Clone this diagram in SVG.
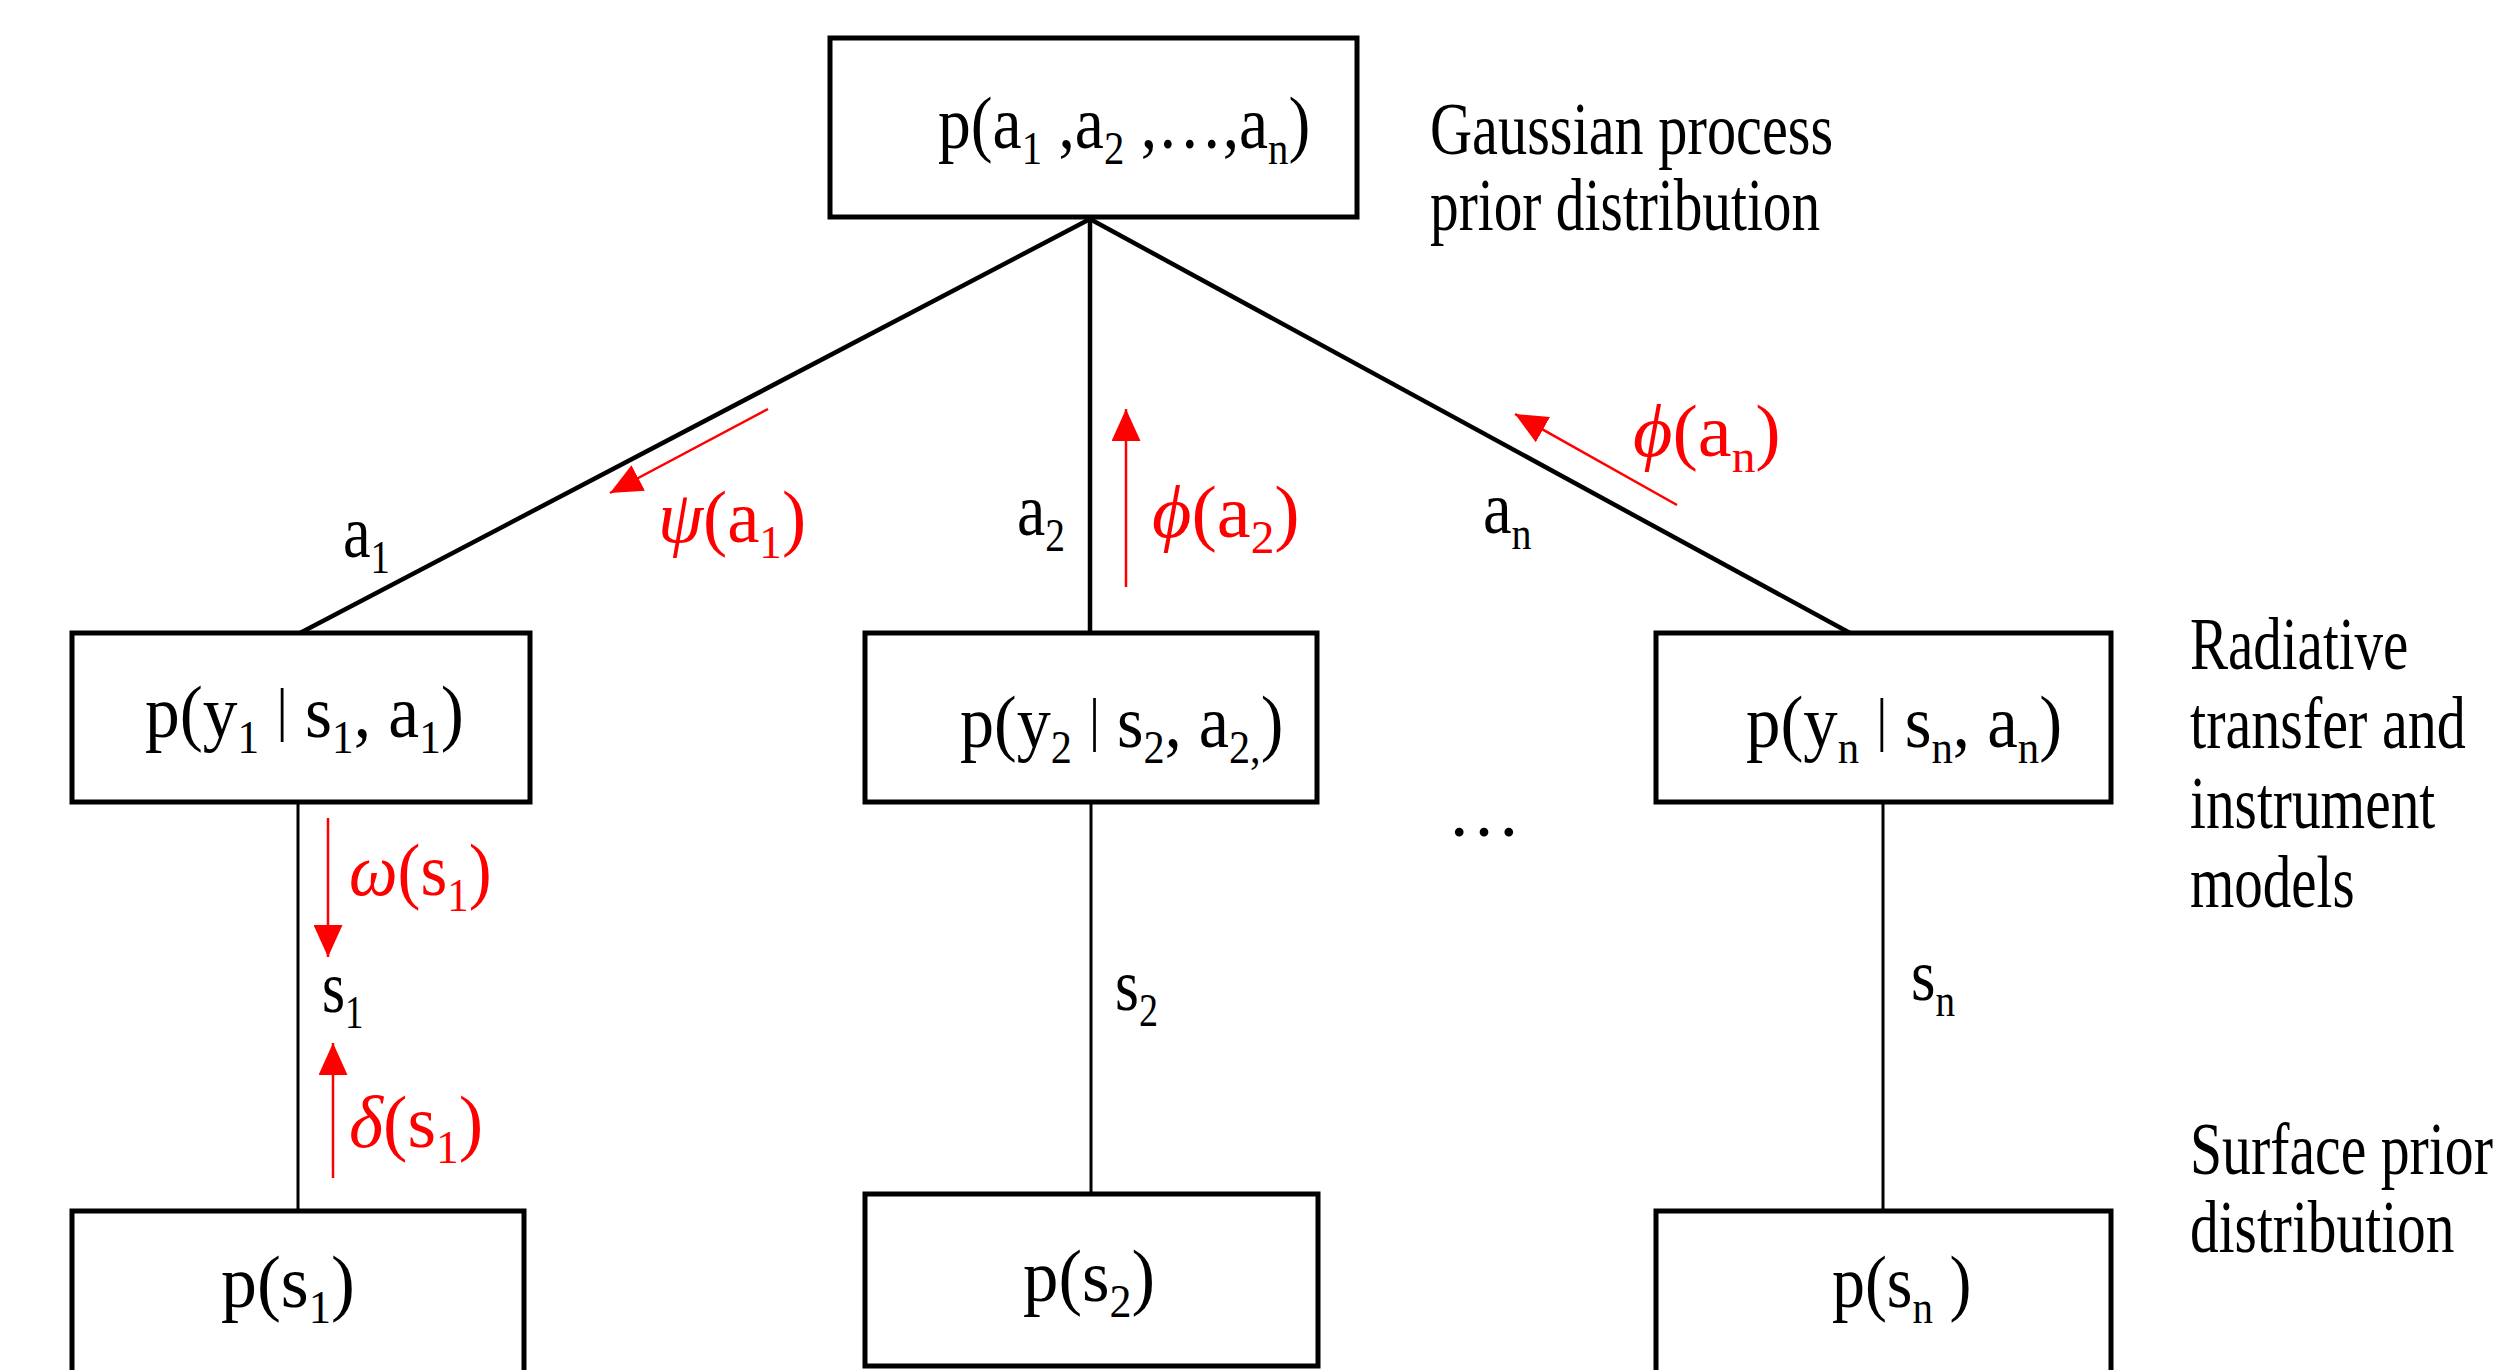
<svg xmlns="http://www.w3.org/2000/svg" width="2507" height="1370" viewBox="0 0 2507 1370">
<style>
text{font-family:"Liberation Serif","Times New Roman",serif;font-size:74px;fill:#000}
.r{fill:#ff0000}
.sub{font-size:46px}
.g{font-style:italic}
.bar{font-size:60px}
.box{fill:#fff;stroke:#000;stroke-width:5}
.ln{stroke:#000;stroke-width:4.5;fill:none}
.ln2{stroke:#000;stroke-width:3;fill:none}
.ar{stroke:#ff0000;stroke-width:2.5;fill:none;marker-end:url(#ah)}
</style>
<defs>
<marker id="ah" markerUnits="userSpaceOnUse" markerWidth="32" markerHeight="29" refX="32" refY="14.5" orient="auto" viewBox="0 0 32 29">
<path d="M0,0 L32,14.5 L0,29 z" fill="#ff0000"/>
</marker>
</defs>
<rect width="2507" height="1370" fill="#fff"/>
<g id="connectors">
<line class="ln" x1="1090" y1="219" x2="300" y2="633"/>
<line class="ln" x1="1090" y1="219" x2="1090" y2="633"/>
<line class="ln" x1="1090" y1="219" x2="1850" y2="633"/>
<line class="ln2" x1="298" y1="801" x2="298" y2="1211"/>
<line class="ln2" x1="1091" y1="801" x2="1091" y2="1194"/>
<line class="ln2" x1="1883" y1="801" x2="1883" y2="1211"/>
<line class="ar" x1="768" y1="409" x2="610" y2="493"/>
<line class="ar" x1="1126" y1="587" x2="1126" y2="409"/>
<line class="ar" x1="1677" y1="505" x2="1515" y2="414"/>
<line class="ar" x1="328" y1="818" x2="328" y2="957"/>
<line class="ar" x1="333" y1="1178" x2="333" y2="1043"/>
</g>
<g id="labels">
<text transform="matrix(0.84 0 0 1 343 557)">a<tspan class="sub" dy="16">1</tspan></text>
<text class="r" transform="matrix(0.98 0 0 1 658 542)"><tspan class="g">ψ</tspan>(a<tspan class="sub" dy="16">1</tspan><tspan dy="-16">)</tspan></text>
<text transform="matrix(0.86 0 0 1 1017 535)">a<tspan class="sub" dy="16">2</tspan></text>
<text class="r" transform="matrix(1.03 0 0 1 1152 537)"><tspan class="g">ϕ</tspan>(a<tspan class="sub" dy="16">2</tspan><tspan dy="-16">)</tspan></text>
<text transform="matrix(0.87 0 0 1 1483 533)">a<tspan class="sub" dy="16">n</tspan></text>
<text class="r" transform="matrix(1.03 0 0 1 1633 456)"><tspan class="g">ϕ</tspan>(a<tspan class="sub" dy="16">n</tspan><tspan dy="-16">)</tspan></text>
<text class="r" transform="matrix(0.93 0 0 1 349 895)"><tspan class="g">ω</tspan>(s<tspan class="sub" dy="16">1</tspan><tspan dy="-16">)</tspan></text>
<text transform="matrix(0.8 0 0 1 322 1012)">s<tspan class="sub" dy="16">1</tspan></text>
<text class="r" transform="matrix(0.99 0 0 1 349 1147)"><tspan class="g">δ</tspan>(s<tspan class="sub" dy="16">1</tspan><tspan dy="-16">)</tspan></text>
<text transform="matrix(0.83 0 0 1 1115 1010)">s<tspan class="sub" dy="16">2</tspan></text>
<text transform="matrix(0.85 0 0 1 1911 1000)">s<tspan class="sub" dy="16">n</tspan></text>
<text transform="translate(1447 836)">…</text>
<text transform="matrix(0.788 0 0 1 1430 154)">Gaussian process</text>
<text transform="matrix(0.775 0 0 1 1430 230)">prior distribution</text>
<text transform="matrix(0.77 0 0 1 2190 669)">Radiative</text>
<text transform="matrix(0.785 0 0 1 2190 748)">transfer and</text>
<text transform="matrix(0.775 0 0 1 2190 828)">instrument</text>
<text transform="matrix(0.77 0 0 1 2190 907)">models</text>
<text transform="matrix(0.78 0 0 1 2190 1174)">Surface prior</text>
<text transform="matrix(0.775 0 0 1 2190 1252)">distribution</text>
</g>
<g id="node-top">
<rect class="box" x="830" y="38" width="527" height="179"/>
<text transform="matrix(0.886 0 0 1 938 148)">p(a<tspan class="sub" dy="16">1</tspan><tspan dy="-16"> ,a</tspan><tspan class="sub" dy="16">2</tspan><tspan dy="-16"> ,…,a</tspan><tspan class="sub" dy="16">n</tspan><tspan dy="-16">)</tspan></text>
</g>
<g id="node-y1">
<rect class="box" x="72" y="633" width="458" height="169"/>
<text transform="matrix(0.938 0 0 1 145 737)">p(y<tspan class="sub" dy="16">1</tspan><tspan dy="-16"> </tspan><tspan class="bar" dy="-8">|</tspan><tspan dy="8"> s</tspan><tspan class="sub" dy="16">1</tspan><tspan dy="-16">, a</tspan><tspan class="sub" dy="16">1</tspan><tspan dy="-16">)</tspan></text>
</g>
<g id="node-y2">
<rect class="box" x="865" y="633" width="452" height="169"/>
<text transform="matrix(0.92 0 0 1 960 747)">p(y<tspan class="sub" dy="16">2</tspan><tspan dy="-16"> </tspan><tspan class="bar" dy="-8">|</tspan><tspan dy="8"> s</tspan><tspan class="sub" dy="16">2</tspan><tspan dy="-16">, a</tspan><tspan class="sub" dy="16">2,</tspan><tspan dy="-16">)</tspan></text>
</g>
<g id="node-yn">
<rect class="box" x="1656" y="633" width="455" height="169"/>
<text transform="matrix(0.93 0 0 1 1746 747)">p(y<tspan class="sub" dy="16">n</tspan><tspan dy="-16"> </tspan><tspan class="bar" dy="-8">|</tspan><tspan dy="8"> s</tspan><tspan class="sub" dy="16">n</tspan><tspan dy="-16">, a</tspan><tspan class="sub" dy="16">n</tspan><tspan dy="-16">)</tspan></text>
</g>
<g id="node-s1">
<rect class="box" x="72" y="1211" width="452" height="200"/>
<text transform="matrix(0.97 0 0 1 221 1307)">p(s<tspan class="sub" dy="16">1</tspan><tspan dy="-16">)</tspan></text>
</g>
<g id="node-s2">
<rect class="box" x="865" y="1194" width="453" height="172"/>
<text transform="matrix(0.957 0 0 1 1023 1301)">p(s<tspan class="sub" dy="16">2</tspan><tspan dy="-16">)</tspan></text>
</g>
<g id="node-sn">
<rect class="box" x="1656" y="1211" width="455" height="200"/>
<text transform="matrix(0.89 0 0 1 1832 1307)">p(s<tspan class="sub" dy="16">n</tspan><tspan dy="-16"> )</tspan></text>
</g>
</svg>
